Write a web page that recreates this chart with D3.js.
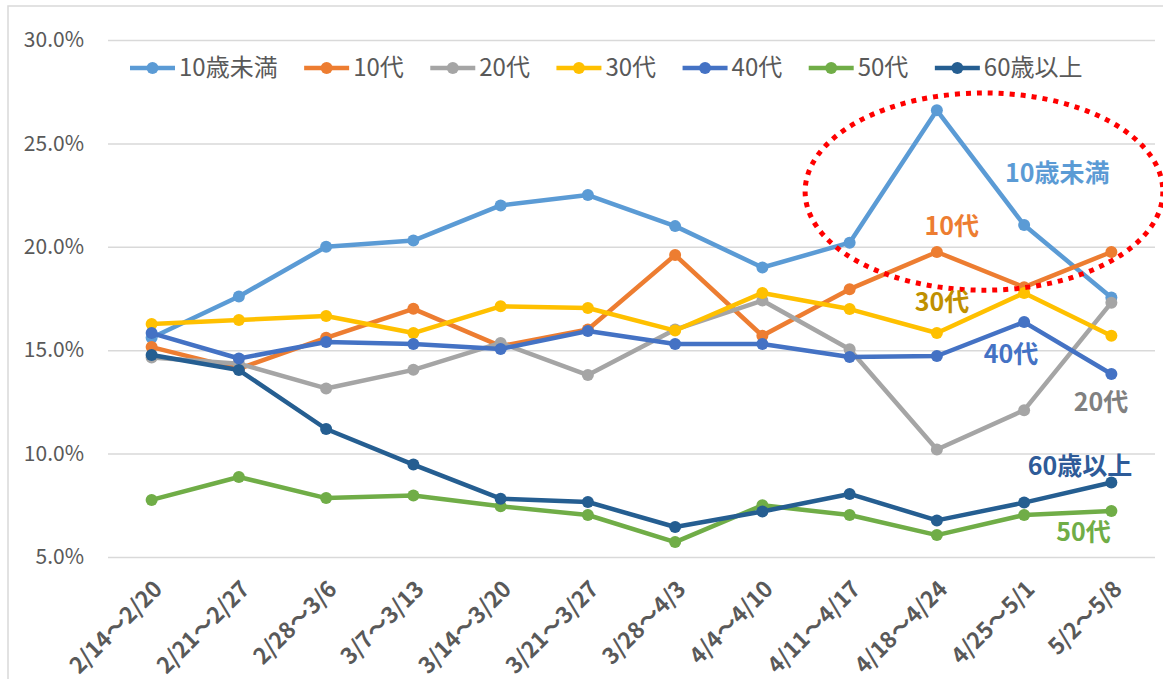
<!DOCTYPE html>
<html>
<head>
<meta charset="utf-8">
<script src="https://d3js.org/d3.v7.min.js"></script>
<style>
  body { margin: 0; background: #fff; }
  text { font-family: "Noto Sans CJK JP", "Noto Sans", sans-serif; }
</style>
</head>
<body>
<script>
// weekly share by age group (%)
const weeks = ["2/14～2/20", "2/21～2/27", "2/28～3/6", "3/7～3/13", "3/14～3/20", "3/21～3/27",
               "3/28～4/3", "4/4～4/10", "4/11～4/17", "4/18～4/24", "4/25～5/1", "5/2～5/8"];
const under10 = [15.6, 17.6, 20.0, 20.3, 22.0, 22.5, 21.0, 19.0, 20.2, 26.6, 21.05, 17.55];
const teens   = [15.15, 14.1, 15.6, 17.0, 15.2, 16.0, 19.6, 15.7, 17.95, 19.75, 18.05, 19.75];
const age20s  = [14.65, 14.35, 13.15, 14.05, 15.35, 13.8, 16.0, 17.4, 15.05, 10.2, 12.1, 17.3];
const age30s  = [16.27, 16.46, 16.65, 15.83, 17.12, 17.04, 15.95, 17.77, 16.99, 15.83, 17.77, 15.7];
const age40s  = [15.83, 14.6, 15.4, 15.3, 15.06, 15.93, 15.3, 15.3, 14.67, 14.72, 16.36, 13.85];
const age50s  = [7.76, 8.87, 7.85, 7.97, 7.45, 7.03, 5.72, 7.5, 7.03, 6.06, 7.03, 7.22];
const over60  = [14.77, 14.04, 11.19, 9.47, 7.82, 7.66, 6.45, 7.2, 8.05, 6.77, 7.63, 8.6];
const names   = ["10歳未満", "10代", "20代", "30代", "40代", "50代", "60歳以上"];
const colors  = ["#5B9BD5", "#ED7D31", "#A5A5A5", "#FFC000", "#4472C4", "#70AD47", "#255E91"];
const yTicks  = [5, 10, 15, 20, 25, 30];

// callout labels: position in (category index, value)
const notes = [
  { text: "10歳未満", i: 10.38, v: 23.57, color: "#5B9BD5" },
  { text: "10代",     i: 9.17,  v: 21.0,  color: "#ED7D31" },
  { text: "30代",     i: 9.06,  v: 17.3,  color: "#BF9000" },
  { text: "40代",     i: 9.85,  v: 14.8,  color: "#4472C4" },
  { text: "20代",     i: 10.88, v: 12.5,  color: "#808080" },
  { text: "60歳以上", i: 10.64, v: 9.38,  color: "#2E5B98" },
  { text: "50代",     i: 10.68, v: 6.22,  color: "#70AD47" }
];
const ring = { i: 9.54, v: 22.67, ri: 2.05, rv: 4.77 };

const W = 1163, H = 679;
const svg = d3.select("body").append("svg")
    .attr("width", W)
    .attr("height", H);

svg.append("rect")
    .attr("x", 8).attr("y", 6)
    .attr("width", W + 20).attr("height", H + 20)
    .style("fill", "#fff")
    .style("stroke", "#D9D9D9")
    .style("stroke-width", 1.5);

const x = d3.scalePoint().domain(weeks).range([108, 1155]).padding(0.5);
const y = d3.scaleLinear().domain([5, 30]).range([557, 40]);
const xi = i => x(weeks[0]) + i * x.step();

// gridlines + y labels
const yAxis = svg.append("g")
    .attr("transform", "translate(108,0)")
    .call(d3.axisLeft(y).tickValues(yTicks).tickSize(-1047)
        .tickFormat(d => d.toFixed(1) + "%").tickPadding(24));
yAxis.select(".domain").remove();
yAxis.selectAll("line").style("stroke", "#D9D9D9").style("stroke-width", 1.5);
yAxis.selectAll("text").style("fill", "#595959").style("font-size", "21px")
    .style("font-family", "\"Noto Sans CJK JP\", sans-serif");

// x labels
const xAxis = svg.append("g")
    .attr("transform", "translate(0,586)")
    .call(d3.axisBottom(x).tickSize(0).tickPadding(0));
xAxis.select(".domain").remove();
xAxis.selectAll("text")
    .attr("text-anchor", "end")
    .attr("dy", "0.35em")
    .attr("transform", "translate(6,-1) rotate(-45)")
    .style("fill", "#595959").style("font-size", "22.5px").style("font-weight", "bold")
    .style("font-family", "\"Noto Sans CJK JP\", sans-serif");

// series
const data = [under10, teens, age20s, age30s, age40s, age50s, over60];
const line = d3.line().x((d, i) => x(weeks[i])).y(d => y(d));
data.forEach((vals, k) => {
    const g = svg.append("g");
    g.append("path")
        .attr("d", line(vals))
        .style("fill", "none")
        .style("stroke", colors[k])
        .style("stroke-width", 4.5)
        .style("stroke-linejoin", "round")
        .style("stroke-linecap", "round");
    g.selectAll("circle").data(vals).join("circle")
        .attr("cx", (d, i) => x(weeks[i]))
        .attr("cy", d => y(d))
        .attr("r", 6)
        .style("fill", colors[k]);
});

// legend
const legend = svg.append("g").attr("transform", "translate(130,68)");
let lx = 0;
names.forEach((n, k) => {
    const item = legend.append("g").attr("transform", `translate(${lx},0)`);
    item.append("line").attr("x1", 0).attr("x2", 45).attr("y1", 0).attr("y2", 0)
        .style("stroke", colors[k]).style("stroke-width", 4.5);
    item.append("circle").attr("cx", 22.5).attr("cy", 0).attr("r", 6).style("fill", colors[k]);
    const t = item.append("text").attr("x", 49).attr("dy", "0.35em")
        .style("fill", "#595959").style("font-size", "24px").text(n);
    lx += 49 + t.node().getComputedTextLength() + 26.5;
});

// dotted ring
svg.append("ellipse")
    .attr("cx", xi(ring.i)).attr("cy", y(ring.v))
    .attr("rx", ring.ri * x.step()).attr("ry", y(0) - y(ring.rv))
    .style("fill", "none")
    .style("stroke", "#FF0000")
    .style("stroke-width", 5)
    .style("stroke-dasharray", "5 6");

// callouts
svg.selectAll(".note").data(notes).join("text")
    .attr("class", "note")
    .attr("x", d => xi(d.i))
    .attr("y", d => y(d.v))
    .attr("dy", "0.35em")
    .attr("text-anchor", "middle")
    .style("fill", d => d.color)
    .style("font-size", "25px")
    .style("font-weight", "bold")
    .text(d => d.text);
</script>
</body>
</html>
